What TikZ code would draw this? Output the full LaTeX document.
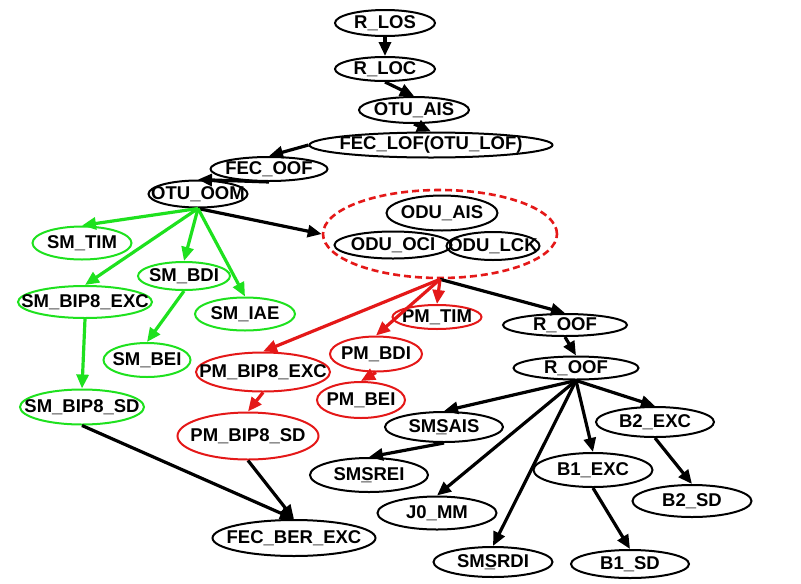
\documentclass[tikz,border=0pt]{standalone}
\usepackage{fontspec}
\setmainfont{Liberation Sans}
\usetikzlibrary{shapes.geometric,arrows.meta}
\definecolor{alarmgreen}{RGB}{30,225,30}
\definecolor{alarmred}{RGB}{228,24,24}
\begin{document}
\begin{tikzpicture}[x=1pt, y=-1pt,
  font=\fontsize{18.5}{20}\selectfont\bfseries,
  alarm/.style={ellipse, draw, line width=2pt, inner sep=0pt},
  link/.style={line width=3.2pt, -{Triangle[length=14pt,width=12pt]}}]
  \useasboundingbox (0,0) rectangle (801,584);

  % Section and OTU chain
  \node[alarm, minimum width=100pt, minimum height=26pt, label=center:{R\_LOS}] (rlos) at (385,23) {};
  \node[alarm, minimum width=100pt, minimum height=24pt, label=center:{R\_LOC}] (rloc) at (385,69) {};
  \node[alarm, minimum width=110pt, minimum height=26pt, label=center:{OTU\_AIS}] (otuais) at (414,110) {};
  \node[alarm, minimum width=243pt, minimum height=25pt, label=center:{FEC\_LOF(OTU\_LOF)}] (feclof) at (431,145) {};
  \node[alarm, minimum width=117pt, minimum height=24pt, label=center:{FEC\_OOF}] (fecoof) at (269,169) {};
  \node[alarm, minimum width=99pt, minimum height=27pt, label=center:{OTU\_OOM}] (otuoom) at (198,194) {};

  % SM alarms
  \node[alarm, alarmgreen, minimum width=99pt, minimum height=33pt, label=center:{SM\_TIM}] (smtim) at (82,243) {};
  \node[alarm, alarmgreen, minimum width=92pt, minimum height=28pt, label=center:{SM\_BDI}] (smbdi) at (184,276) {};
  \node[alarm, alarmgreen, minimum width=134pt, minimum height=32pt, label=center:{SM\_BIP8\_EXC}] (smexc) at (85,302) {};
  \node[alarm, alarmgreen, minimum width=100pt, minimum height=33pt, label=center:{SM\_IAE}] (smiae) at (245,314) {};
  \node[alarm, alarmgreen, minimum width=87pt, minimum height=34pt, label=center:{SM\_BEI}] (smbei) at (147,360) {};
  \node[alarm, alarmgreen, minimum width=124pt, minimum height=35pt, label=center:{SM\_BIP8\_SD}] (smsd) at (82,407) {};

  % ODU group
  \node[alarm, alarmred, line width=2.6pt, dash pattern=on 7pt off 4pt, minimum width=234pt, minimum height=88pt] (odu) at (440,234) {};
  \node[alarm, minimum width=111pt, minimum height=35pt, label=center:{ODU\_AIS}] (oduais) at (442,213) {};
  \node[alarm, minimum width=117pt, minimum height=27pt, label=center:{ODU\_OCI}] (oduoci) at (393,245) {};
  \node[alarm, minimum width=93pt, minimum height=28pt, label=center:{ODU\_LCK}] (odulck) at (493,246) {};

  % PM alarms
  \node[alarm, alarmred, minimum width=89pt, minimum height=24pt, label=center:{PM\_TIM}] (pmtim) at (437,317) {};
  \node[alarm, alarmred, minimum width=92pt, minimum height=35pt, label=center:{PM\_BDI}] (pmbdi) at (376,354) {};
  \node[alarm, alarmred, minimum width=88pt, minimum height=36pt, label=center:{PM\_BEI}] (pmbei) at (361,400) {};
  \node[alarm, alarmred, minimum width=134pt, minimum height=39pt, label=center:{PM\_BIP8\_EXC}] (pmexc) at (263,372) {};
  \node[alarm, alarmred, minimum width=141pt, minimum height=47pt, label=center:{PM\_BIP8\_SD}] (pmsd) at (248,436) {};
  \node[alarm, minimum width=163pt, minimum height=36pt, label=center:{FEC\_BER\_EXC}] (fecber) at (294,538) {};

  % SDH client alarms
  \node[alarm, minimum width=124pt, minimum height=22pt, label=center:{R\_OOF}] (roofa) at (565,325) {};
  \node[alarm, minimum width=125pt, minimum height=23pt, label=center:{R\_OOF}] (roofb) at (576,368) {};
  \node[alarm, minimum width=118pt, minimum height=30pt, label=center:{SM\rlap{\_}SAIS}] (smsais) at (444,427) {};
  \node[alarm, minimum width=118pt, minimum height=34pt, label=center:{SM\rlap{\_}SREI}] (smsrei) at (369,475) {};
  \node[alarm, minimum width=119pt, minimum height=33pt, label=center:{J0\_MM}] (jmm) at (437,513) {};
  \node[alarm, minimum width=119pt, minimum height=30pt, label=center:{SM\rlap{\_}SRDI}] (smsrdi) at (493,562) {};
  \node[alarm, minimum width=119pt, minimum height=34pt, label=center:{B1\_EXC}] (bexc) at (593,470) {};
  \node[alarm, minimum width=118pt, minimum height=28pt, label=center:{B1\_SD}] (bsd) at (630,564) {};
  \node[alarm, minimum width=118pt, minimum height=30pt, label=center:{B2\_EXC}] (cexc) at (655,422) {};
  \node[alarm, minimum width=119pt, minimum height=32pt, label=center:{B2\_SD}] (csd) at (692,501) {};

  % Black links
  \draw[link] (rlos.south) -- (rloc.north);
  \draw[link] (rloc.south) -- (otuais.north);
  \draw[link] (otuais.south) -- (feclof.north);
  \draw[link] (feclof.west) -- (fecoof.north);
  \draw[link] (fecoof.south) -- (otuoom.north);
  \draw[link] (otuoom.south) -- (odu.west);
  \draw[link] (odu.south) -- (roofa.north);
  \draw[link] (smsd.south) -- (fecber.north);
  \draw[link] (pmsd.south) -- (fecber.north);
  \draw[link] (roofa.south) -- (roofb.north);
  \draw[link] (roofb.south) -- (smsais.north);
  \draw[link] (roofb.south) -- (jmm.north);
  \draw[link] (roofb.south) -- (smsrdi.north);
  \draw[link] (roofb.south) -- (bexc.north);
  \draw[link] (roofb.south) -- (cexc.north);
  \draw[link] (smsais.south) -- (smsrei.north);
  \draw[link] (bexc.south) -- (bsd.north);
  \draw[link] (cexc.south) -- (csd.north);

  % Green links
  \draw[link, alarmgreen] (otuoom.south) -- (smtim.north);
  \draw[link, alarmgreen] (otuoom.south) -- (smexc.north);
  \draw[link, alarmgreen] (otuoom.south) -- (smbdi.north);
  \draw[link, alarmgreen] (otuoom.south) -- (smiae.north);
  \draw[link, alarmgreen] (smexc.south) -- (smsd.north);
  \draw[link, alarmgreen] (smbdi.south) -- (smbei.north);

  % Red links
  \draw[link, alarmred] (odu.south) -- (pmexc.north);
  \draw[link, alarmred] (odu.south) -- (pmtim.north);
  \draw[link, alarmred] (odu.south) -- (pmbdi.north);
  \draw[link, alarmred] (pmexc.south) -- (pmsd.north);
  \draw[link, alarmred] (pmbdi.south) -- (pmbei.north);
\end{tikzpicture}
\end{document}
